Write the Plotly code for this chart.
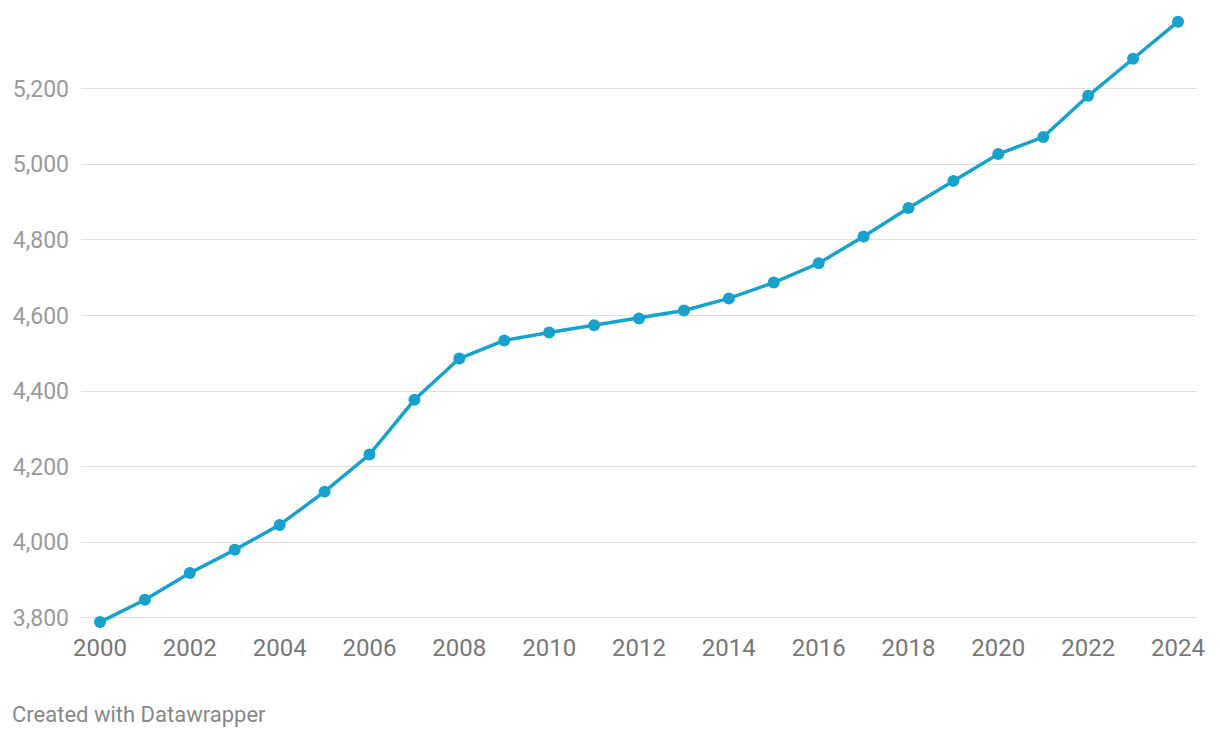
import plotly.graph_objects as go

years = list(range(2000, 2025))
values = [3789, 3848, 3919, 3980, 4046, 4134, 4232, 4377, 4486, 4534,
          4555, 4574, 4592, 4613, 4645, 4687, 4738, 4809, 4884, 4956,
          5027, 5072, 5181, 5279, 5377]

y_ticks = [3800, 4000, 4200, 4400, 4600, 4800, 5000, 5200]
x_ticks = list(range(2000, 2025, 2))

line_color = "#18a1cd"

fig = go.Figure()
fig.add_trace(go.Scatter(
    x=years, y=values, mode="lines+markers",
    line=dict(color=line_color, width=3.5),
    marker=dict(color=line_color, size=12),
    hoverinfo="skip",
))

# page body adds an 8px margin, so the figure is sized 16px smaller
fig.update_layout(
    width=1204, height=722,
    margin=dict(l=73, r=15, t=2, b=100),
    paper_bgcolor="white", plot_bgcolor="white",
    font=dict(family="Roboto", size=23),
    showlegend=False,
    xaxis=dict(
        range=[1999.577, 2024.423],
        tickvals=x_ticks,
        showgrid=False, zeroline=False, showline=False,
        tickfont=dict(color="#777777", size=24),
        ticklabelstandoff=1,
    ),
    yaxis=dict(
        range=[3768, 5408],
        tickvals=y_ticks, tickformat=",",
        showgrid=True, gridcolor="#e0e0e0", gridwidth=1.2,
        zeroline=False, showline=False,
        tickfont=dict(color="#9a9a9a", size=23),
        ticklabelstandoff=11,
    ),
    annotations=[dict(
        text="Created with Datawrapper", xref="paper", yref="paper",
        x=0, y=0, xanchor="left", yanchor="middle",
        xshift=-71, yshift=-84, showarrow=False,
        font=dict(family="Roboto", size=22, color="#888888"),
    )],
)

fig.write_html("out.html")
